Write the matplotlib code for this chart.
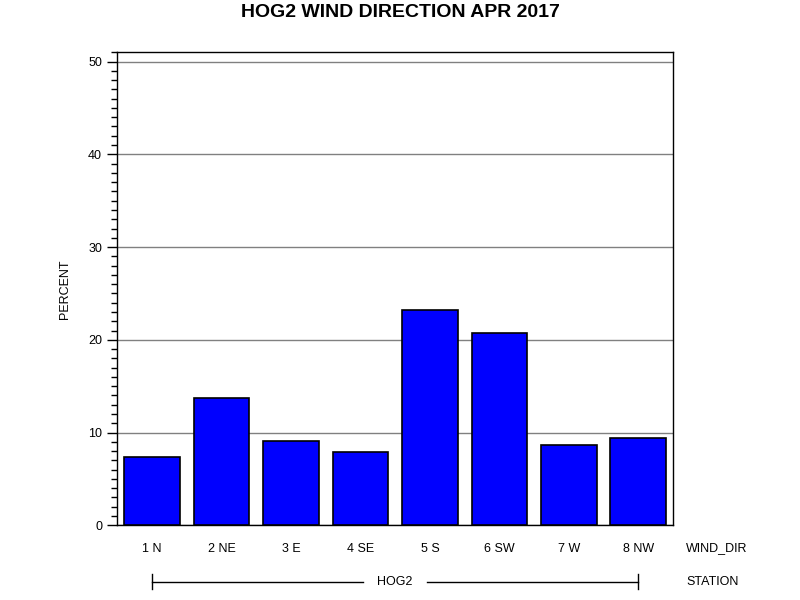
import matplotlib
matplotlib.use("Agg")
import matplotlib.pyplot as plt
from matplotlib.transforms import blended_transform_factory
from matplotlib.ticker import MultipleLocator

categories = ["1 N", "2 NE", "3 E", "4 SE", "5 S", "6 SW", "7 W", "8 NW"]
percent = [7.35, 13.73, 9.08, 7.89, 23.24, 20.76, 8.65, 9.41]
station = "HOG2"
title = "HOG2 WIND DIRECTION APR 2017"

plt.rcParams['font.family'] = ['Liberation Sans', 'DejaVu Sans']

fig = plt.figure(figsize=(8, 6), dpi=100)
ax = fig.add_axes([117.3/800, 1-525.3/600, (673-117.3)/800, (525.3-52.3)/600])

x = list(range(len(categories)))
ax.bar(x, percent, width=0.8, color="#0000ff", edgecolor="black", linewidth=1.2, zorder=3)
ax.set_xlim(-0.5, len(categories)-0.5)
ax.set_ylim(0, 51)
ax.yaxis.set_major_locator(MultipleLocator(10))
ax.yaxis.set_minor_locator(MultipleLocator(1))
ax.grid(axis='y', which='major', color='#808080', linewidth=1, zorder=1)
ax.set_axisbelow(True)
ax.tick_params(axis='y', which='major', length=7, width=1, labelsize=9, pad=4, direction='out')
ax.tick_params(axis='y', which='minor', length=4, width=1, direction='out')
ax.tick_params(axis='x', length=0, labelsize=9, pad=13)
ax.set_xticks(x)
ax.set_xticklabels(categories)
for s in ax.spines.values():
    s.set_linewidth(1)
    s.set_color('black')

ax.set_ylabel("PERCENT", fontsize=9, labelpad=12)

fig.text(686/800, 1-548/600, "WIND_DIR", fontsize=9, ha='left', va='center')
fig.text(686/800, 1-581.7/600, "STATION", fontsize=9, ha='left', va='center')

tr = blended_transform_factory(ax.transData, fig.transFigure)
yl = 1-581.7/600
ax.plot([0, 3.035], [yl, yl], transform=tr, color='black', linewidth=1, clip_on=False)
ax.plot([3.956, len(categories)-1], [yl, yl], transform=tr, color='black', linewidth=1, clip_on=False)
for xe in [0, len(categories)-1]:
    ax.plot([xe, xe], [1-574/600, 1-589.3/600], transform=tr, color='black', linewidth=1, clip_on=False)
ax.text((len(categories)-1)/2, yl, station, transform=tr, fontsize=9, ha='center', va='center')

fig.text(0.5, 1-12.5/600, title, fontsize=14, fontweight='bold', ha='center', va='center')

fig.savefig("out.png", dpi=100)
